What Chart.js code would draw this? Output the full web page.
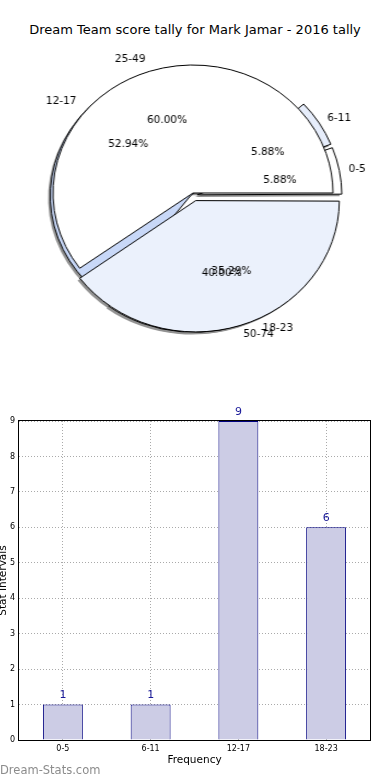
<!DOCTYPE html>
<html>
<head>
<meta charset="utf-8">
<script src="https://cdn.jsdelivr.net/npm/chart.js@4/dist/chart.umd.min.js"></script>
<style>
  html, body { margin: 0; padding: 0; background: #fff; }
  body { width: 390px; height: 780px; position: relative; overflow: hidden; font-family: 'DejaVu Sans', sans-serif; }
  #title { position: absolute; left: 0; top: 21px; width: 390px; text-align: center; font-size: 13px; line-height: 18px; color: #000; }
  #pieBox { position: absolute; left: -2px; top: 0; width: 390px; height: 386px; transform: scaleX(1.09375); transform-origin: 195px 193px; }
  #pieBox canvas { position: absolute; left: 0; top: 0; }
  #barChart { position: absolute; left: 0; top: 400px; }
  #mark { position: absolute; left: 0; top: 762px; font-size: 11.5px; line-height: 16px; color: #8c8c8c; }
</style>
</head>
<body>
<div id="title">Dream Team score tally for Mark Jamar - 2016 tally</div>
<div id="pieBox">
  <canvas id="pieBack" width="390" height="386"></canvas>
  <canvas id="pieFront" width="390" height="386"></canvas>
</div>
<canvas id="barChart" width="390" height="380"></canvas>
<div id="mark">Dream-Stats.com</div>

<script>
// data
const pie1Names = ["0-5", "6-11", "12-17", "18-23"];
const pie1Values = [1, 1, 9, 6];
const pie2Names = ["25-49", "50-74"];
const pie2Values = [3, 2];

const barLabels = ["0-5", "6-11", "12-17", "18-23"];
const barValues = [1, 1, 9, 6];
const yMin = 0;
const yMax = 9;

// styles
const pie1Colors = ["#ffffff", "#e6edfb", "#c8d8f8", "#ffffff"];
const pie1Offsets = [26, 26, 0, 30];
const pie2Colors = ["#ffffff", "#ebf1fc"];
const pie2Offsets = [0, 32];

const FONT = "'DejaVu Sans', sans-serif";
const SX = 140 / 128;   // pie box is stretched sideways, like the original axes
const SHADOW = "#929292";

let pieFront, pieBack, barChart;

// draw text un-stretched inside the stretched pie box
function pieText(ctx, text, x, y, align) {
  ctx.save();
  ctx.translate(x, y);
  ctx.scale(1 / SX, 1);
  ctx.font = "10.5px " + FONT;
  ctx.fillStyle = "#000";
  ctx.textAlign = align;
  ctx.textBaseline = "middle";
  ctx.fillText(text, 0, 0);
  ctx.restore();
}

function drawPieLabels(ctx, chart) {
  const meta = chart.getDatasetMeta(0);
  const vals = chart.data.datasets[0].data;
  const total = vals.reduce((a, b) => a + b, 0);
  meta.data.forEach((arc, i) => {
    const mid = (arc.startAngle + arc.endAngle) / 2;
    const push = (arc.options.offset || 0) / 4;
    const r = arc.outerRadius;
    const cx = arc.x + Math.cos(mid) * push;
    const cy = arc.y + Math.sin(mid) * push;
    const lx = cx + Math.cos(mid) * r * 1.1;
    const ly = cy + Math.sin(mid) * r * 1.1;
    pieText(ctx, chart.data.labels[i], lx, ly, Math.cos(mid) > 0 ? "left" : "right");
    const pct = (vals[i] / total * 100).toFixed(2) + "%";
    pieText(ctx, pct, cx + Math.cos(mid) * r * 0.6, cy + Math.sin(mid) * r * 0.6, "center");
  });
}

// gray copies of every wedge of both pies, under all wedges
const shadowPlugin = {
  id: "pieShadow",
  beforeDatasetsDraw(chart) {
    const ctx = chart.ctx;
    ctx.save();
    ctx.translate(-2.2 / SX, 2.2);
    [pieFront, chart].forEach(c => {
      if (!c) return;
      c.getDatasetMeta(0).data.forEach(arc => {
        const ghost = Object.create(arc);
        ghost.options = Object.assign({}, arc.options, { backgroundColor: SHADOW, borderColor: SHADOW, borderWidth: 0 });
        arc.draw.call(ghost, ctx);
      });
    });
    ctx.restore();
  }
};

const labelPlugin = {
  id: "pieLabels",
  afterDraw(chart) {
    if (pieBack) drawPieLabels(chart.ctx, pieBack);
    drawPieLabels(chart.ctx, chart);
  }
};

function pieConfig(names, values, colors, offsets, padding, plugins) {
  // reversed so that wedges run counter-clockwise from the east, as in the original
  return {
    type: "pie",
    data: {
      labels: names.slice().reverse(),
      datasets: [{
        data: values.slice().reverse(),
        backgroundColor: colors.slice().reverse(),
        offset: offsets.slice().reverse(),
        borderColor: "#000",
        borderWidth: 1,
        hoverOffset: 0
      }]
    },
    options: {
      responsive: false,
      animation: false,
      events: [],
      radius: 128,
      rotation: 90,
      layout: { padding: padding },
      plugins: { legend: { display: false }, tooltip: { enabled: false } }
    },
    plugins: plugins
  };
}

pieFront = new Chart(document.getElementById("pieFront"),
  pieConfig(pie2Names, pie2Values, pie2Colors, pie2Offsets, 0, [labelPlugin]));
pieBack = new Chart(document.getElementById("pieBack"),
  pieConfig(pie1Names, pie1Values, pie1Colors, pie1Offsets, { left: 0, right: 5, top: 6, bottom: 0 }, [shadowPlugin]));
pieFront.draw();

// bar chart
const frameAndValues = {
  id: "frameAndValues",
  afterDraw(chart) {
    const { ctx, chartArea: a } = chart;
    ctx.save();
    ctx.strokeStyle = "#000";
    ctx.lineWidth = 1;
    ctx.strokeRect(Math.round(a.left) - 0.5, Math.round(a.top) - 0.5, Math.round(a.right - a.left) + 1, Math.round(a.bottom - a.top) + 1);
    ctx.fillStyle = "#1a1a99";
    ctx.font = "11px " + FONT;
    ctx.textAlign = "center";
    ctx.textBaseline = "middle";
    chart.getDatasetMeta(0).data.forEach((bar, i) => {
      ctx.fillText(String(chart.data.datasets[0].data[i]), bar.x, bar.y - 9);
    });
    ctx.restore();
  }
};

barChart = new Chart(document.getElementById("barChart"), {
  type: "bar",
  data: {
    labels: barLabels,
    datasets: [{
      data: barValues,
      backgroundColor: "#ccccE5",
      borderColor: "#000080",
      borderWidth: 1,
      barPercentage: 0.455,
      categoryPercentage: 1
    }]
  },
  options: {
    responsive: false,
    animation: false,
    events: [],
    layout: { padding: { top: 21, right: 20, left: 0, bottom: 0 } },
    plugins: { legend: { display: false }, tooltip: { enabled: false } },
    scales: {
      x: {
        z: 1,
        grid: { offset: false, color: "#aaaaaa", drawTicks: false },
        border: { display: false, dash: [1, 2] },
        ticks: { color: "#000", font: { family: FONT, size: 8 }, padding: 4 },
        title: { display: true, text: "Frequency", color: "#000", font: { family: FONT, size: 10.5 }, padding: { top: 0, bottom: 13 } },
        afterFit: s => { s.height = 40; }
      },
      y: {
        z: 1,
        min: yMin,
        max: yMax,
        grid: { color: "#aaaaaa", drawTicks: false },
        border: { display: false, dash: [1, 2] },
        ticks: { stepSize: 1, color: "#000", font: { family: FONT, size: 8 }, padding: 4 },
        title: { display: true, text: "Stat Intervals", color: "#000", font: { family: FONT, size: 10.5 }, padding: { top: -3, bottom: 0 } },
        afterFit: s => { s.width = 19; }
      }
    }
  },
  plugins: [frameAndValues]
});
</script>
</body>
</html>
